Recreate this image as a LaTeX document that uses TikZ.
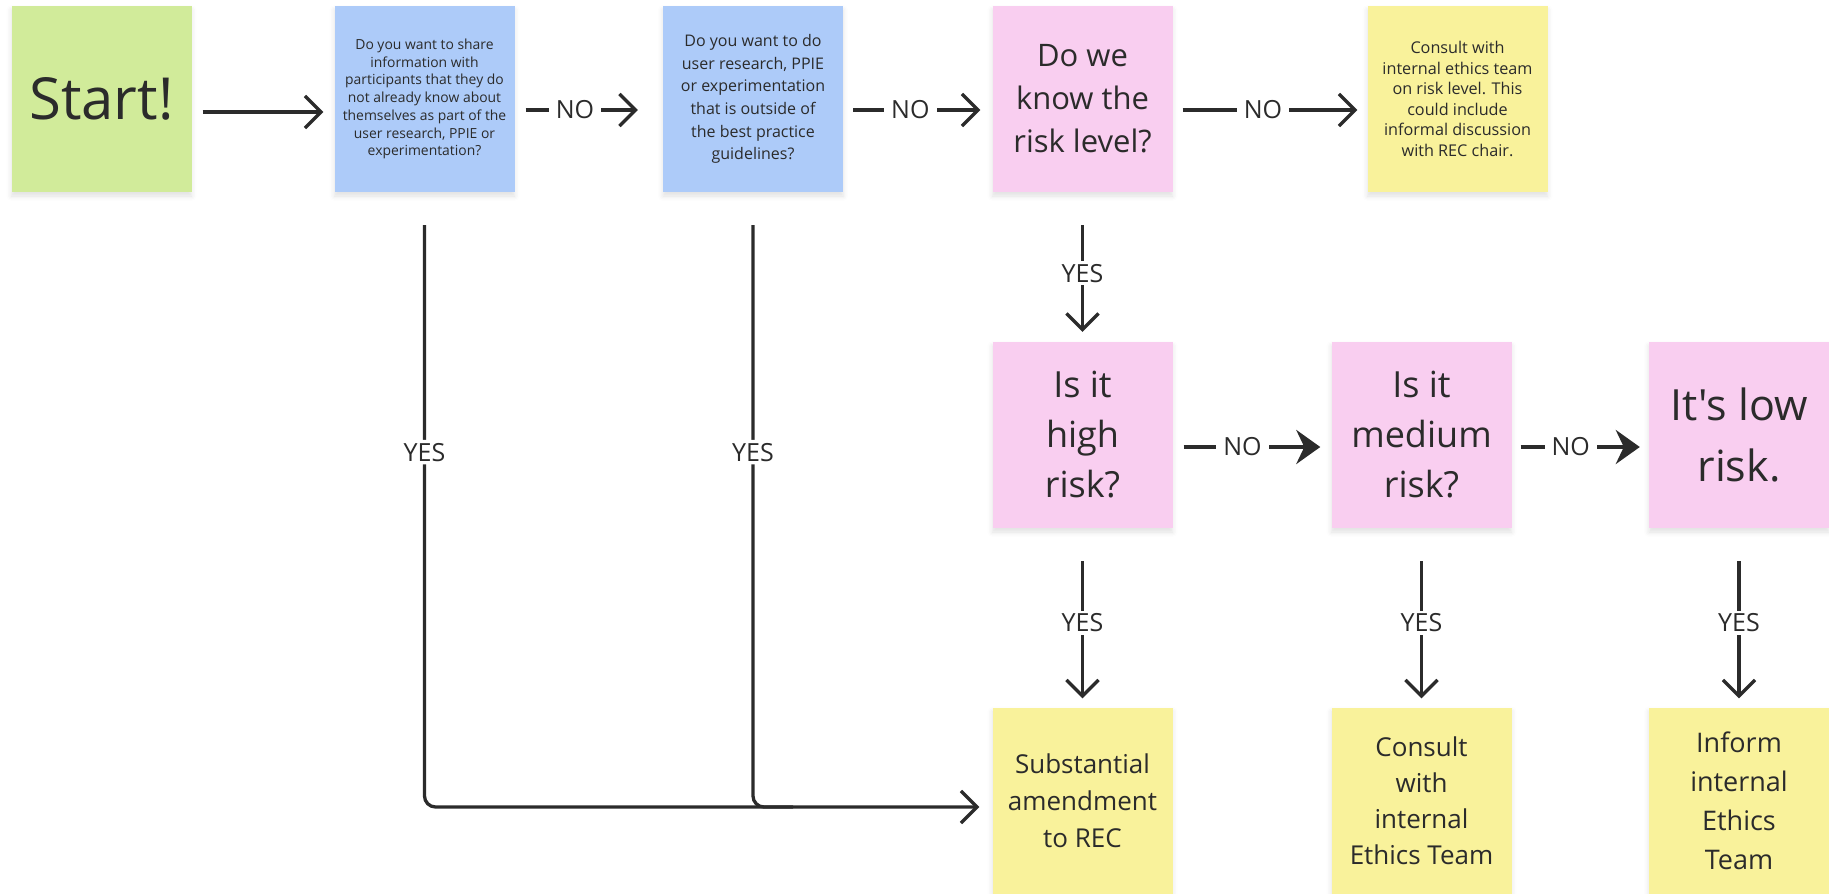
\documentclass[tikz,border=0pt]{standalone}
\usepackage{fontspec}
\setmainfont{Open Sans}[Ligatures=TeXOff]
\usetikzlibrary{arrows.meta,calc,shadows.blur}

\definecolor{ink}{HTML}{2B2B2B}
\definecolor{notegreen}{HTML}{D1EB9A}
\definecolor{noteblue}{HTML}{ADCBF9}
\definecolor{notepink}{HTML}{F9CEF0}
\definecolor{noteyellow}{HTML}{F9F29B}

\newcommand{\fs}[2]{\fontsize{#1}{#2}\selectfont}

\begin{document}
\begin{tikzpicture}[x=1pt,y=-1pt,
  note/.style={minimum width=180pt, minimum height=186pt, inner sep=0pt,
    align=center, text=ink,
    blur shadow={shadow xshift=0pt, shadow yshift=-4pt,
      shadow blur radius=5pt, shadow opacity=12}},
  green/.style={note, fill=notegreen},
  blue/.style={note, fill=noteblue},
  pink/.style={note, fill=notepink},
  yellow/.style={note, fill=noteyellow},
  link/.style={draw=ink, line width=3.3pt,
    -{Straight Barb[length=16pt,width=32pt,line width=3.3pt]}},
  boldlink/.style={draw=ink, line width=3.8pt,
    -{Stealth[length=24pt,width=34pt,inset=8pt]}},
  lbl/.style={fill=white, text=ink, inner xsep=7pt, inner ysep=3pt,
    font=\fs{25}{25}},
  smalllbl/.style={lbl}
]
\useasboundingbox (0,0) rectangle (1829,894);

% top row
\node[green, font=\fs{58}{70}] (start) at (101.5,99) {Start!};
\node[blue, font=\fs{13.9}{17.7}] (share) at (424.5,99)
  {Do you want to share\\information with\\participants that they do\\not already know about\\themselves as part of the\\user research, PPIE or\\experimentation?};
\node[blue, font=\fs{16}{22.6}] (outside) at (753,99)
  {Do you want to do\\user research, PPIE\\or experimentation\\that is outside of\\the best practice\\guidelines?};
\node[pink, font=\fs{31}{43}] (know) at (1082.5,99) {Do we\\know the\\risk level?};
\node[yellow, font=\fs{16.2}{20.5}] (ask) at (1457.5,99)
  {Consult with\\internal ethics team\\on risk level. This\\could include\\informal discussion\\with REC chair.};

% middle row
\node[pink, font=\fs{36}{50}] (high)   at (1082.5,435) {Is it\\high\\risk?};
\node[pink, font=\fs{36}{50}] (medium) at (1421.5,435) {Is it\\medium\\risk?};
\node[pink, font=\fs{43}{61}] (low)    at (1739,435)   {It's low\\risk.};

% bottom row
\node[yellow, font=\fs{26}{37}] (subst)   at (1082.5,800.5) {Substantial\\amendment\\to REC};
\node[yellow, font=\fs{26}{36}] (consult) at (1421.5,800.5) {Consult\\with\\internal\\Ethics Team};
\node[yellow, font=\fs{27}{39}] (inform)  at (1739,800.5)   {Inform\\internal\\Ethics\\Team};

% top row connectors
\draw[link] ($(start.east)+(11,13)$) -- ($(share.west)+(-11,13)$);
\draw[link] ($(share.east)+(11,11)$) -- node[lbl,pos=0.44]{NO} ($(outside.west)+(-25,11)$);
\draw[link] ($(outside.east)+(10,11)$) -- node[lbl,pos=0.45]{NO} ($(know.west)+(-12,11)$);
\draw[link] ($(know.east)+(10,11)$) -- node[lbl,pos=0.46]{NO} ($(ask.west)+(-10,11)$);

% risk known
\draw[link] ($(know.south)+(0,33)$) -- node[lbl,pos=0.45]{YES} ($(high.north)+(0,-10)$);

% middle row connectors
\draw[boldlink] ($(high.east)+(11,12)$) -- node[smalllbl,pos=0.43]{NO} ($(medium.west)+(-11,12)$);
\draw[boldlink] ($(medium.east)+(9,12)$) -- node[smalllbl,pos=0.42]{NO} ($(low.west)+(-9,12)$);

% outcomes
\draw[link] ($(high.south)+(0,33)$) -- node[lbl,pos=0.45]{YES} ($(subst.north)+(0,-9)$);
\draw[link] ($(medium.south)+(0,33)$) -- node[lbl,pos=0.45]{YES} ($(consult.north)+(0,-9)$);
\draw[link] ($(low.south)+(0,33)$) -- node[lbl,pos=0.45]{YES} ($(inform.north)+(0,-9)$);

% long YES routes into the substantial amendment
\coordinate (busend) at ($(subst.west)+(-13,6.5)$);
\draw[link, rounded corners=11pt] ($(share.south)+(0,33)$)
  -- node[lbl,pos=0.39]{YES} (share.south |- busend) -- (busend);
\draw[draw=ink, line width=3.3pt, rounded corners=11pt] ($(outside.south)+(0,33)$)
  -- node[lbl,pos=0.39]{YES} (outside.south |- busend) -- ($(outside.south |- busend)+(40,0)$);
\end{tikzpicture}
\end{document}
